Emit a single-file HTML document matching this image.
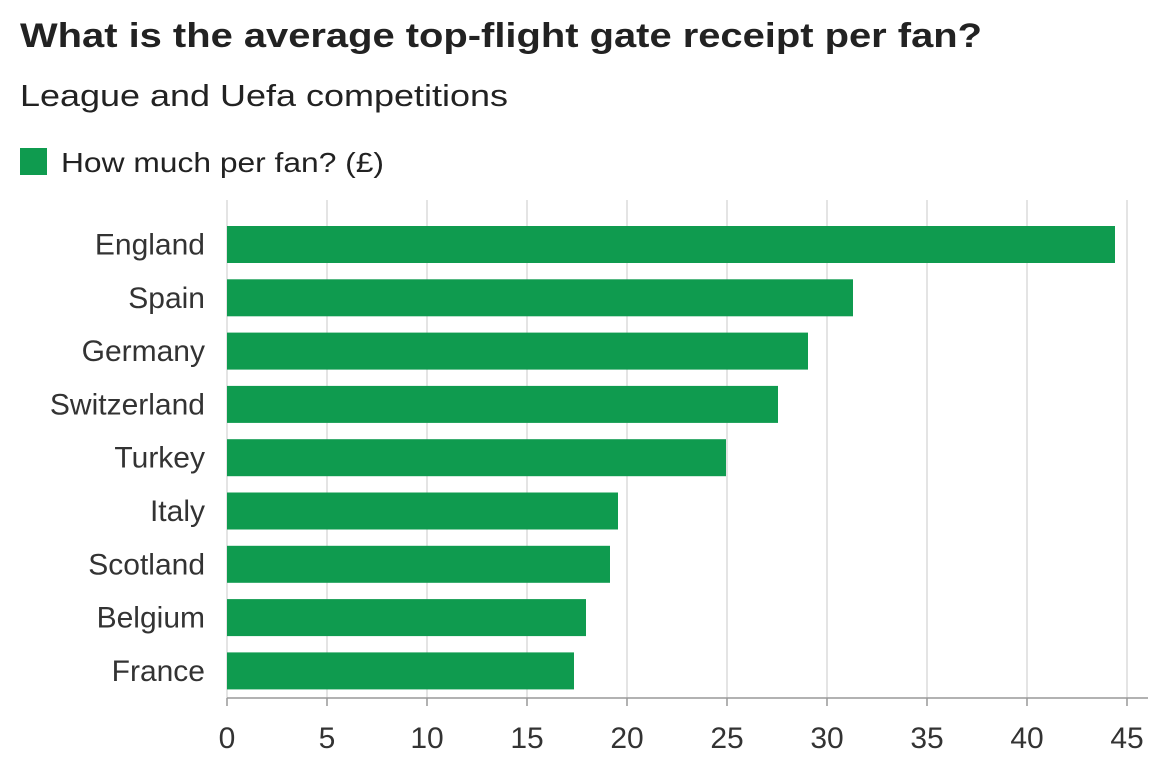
<!DOCTYPE html>
<html><head><meta charset="utf-8"><style>
body{margin:0;background:#fff;width:1174px;height:784px;overflow:hidden;font-family:"Liberation Sans",Arial,sans-serif;}
svg{display:block}
</style></head><body>
<svg id="c" width="1174" height="784">
<text x="20" y="47" font-size="34" font-weight="bold" fill="#222" textLength="962" lengthAdjust="spacingAndGlyphs">What is the average top-flight gate receipt per fan?</text>
<text x="20" y="106" font-size="31" fill="#222" textLength="488" lengthAdjust="spacingAndGlyphs">League and Uefa competitions</text>
<rect x="20" y="148" width="27" height="27" fill="#0f9b4f"/>
<text x="61" y="172" font-size="28" fill="#222" textLength="323" lengthAdjust="spacingAndGlyphs">How much per fan? (£)</text>
<g id="grid"></g><g id="bars"></g><g id="labels"></g>
</svg>
<script>
const categories=["England","Spain","Germany","Switzerland","Turkey","Italy","Scotland","Belgium","France"];
const values=[44.4,31.3,29.05,27.55,24.95,19.55,19.15,17.95,17.35];
const ticks=[0,5,10,15,20,25,30,35,40,45];
(function(){
const NS="http://www.w3.org/2000/svg";
const x0=227,xs=20,plotTop=200,plotBottom=698,step=53.3,bh=37,first=226;
const xScale=v=>x0+v*xs;
const yScale=i=>first+i*step;
function mk(t,a){const e=document.createElementNS(NS,t);for(const k in a)e.setAttribute(k,a[k]);return e;}
const grid=document.getElementById('grid'),bars=document.getElementById('bars'),labels=document.getElementById('labels');
ticks.forEach(t=>{
 const l=mk('line',{x1:xScale(t),x2:xScale(t),y1:plotTop,y2:plotBottom,stroke:'#dcdcdc','stroke-width':1.5});
 
 
 grid.appendChild(l);
 const tk=mk('line',{x1:xScale(t),x2:xScale(t),y1:plotBottom,y2:plotBottom+8,stroke:'#999','stroke-width':1.5});
 
 
 grid.appendChild(tk);
 const tx=mk('text',{x:xScale(t),y:plotBottom+50,'font-size':30,fill:'#333','text-anchor':'middle'});
 tx.textContent=t;
 
 
 labels.appendChild(tx);
});
const ax=mk('line',{x1:x0,x2:1148,y1:plotBottom,y2:plotBottom,stroke:'#999','stroke-width':1.5});


grid.appendChild(ax);
categories.forEach((c,i)=>{
 const r=mk('rect',{x:x0,y:yScale(i),width:xScale(values[i])-x0,height:bh,fill:'#0f9b4f'});
 
 
 bars.appendChild(r);
 const t=mk('text',{x:205,y:yScale(i)+bh/2+10,'font-size':30,fill:'#333','text-anchor':'end'});
 t.textContent=c;
 
 
 labels.appendChild(t);
});
})();
</script>
</body></html>
